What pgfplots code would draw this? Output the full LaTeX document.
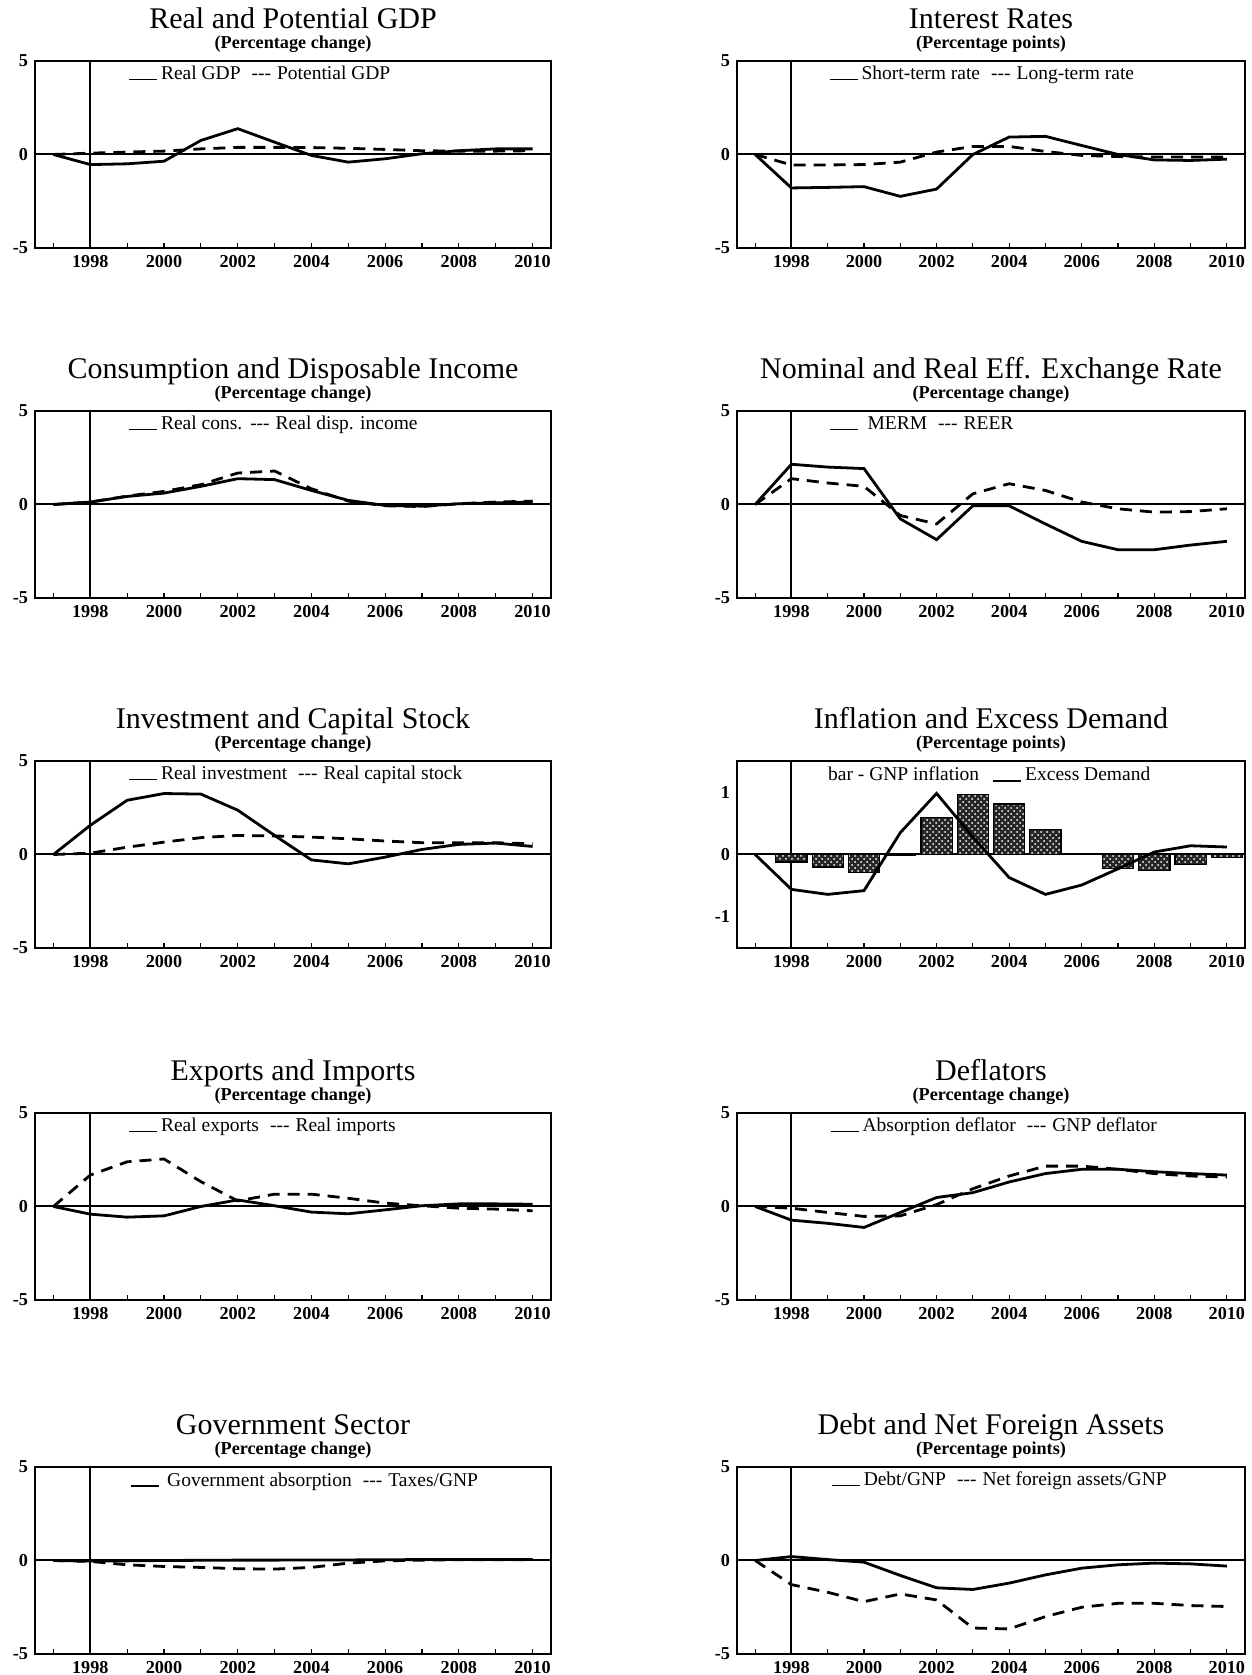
\documentclass[border=0pt]{standalone}
\usepackage{pgfplots}
\pgfplotsset{compat=1.18}
\usetikzlibrary{patterns}
\usepackage{fontspec}
\setmainfont{Liberation Serif}
\newcommand{\ttl}{\fontsize{15}{18}\selectfont}
\newcommand{\sub}{\bfseries\fontsize{9.1}{11}\selectfont}
\newcommand{\tkl}{\bfseries\fontsize{9.1}{11}\selectfont}
\newcommand{\leg}{\fontsize{9.75}{11}\selectfont}
\newcommand{\ul}{\rule[-0.4pt]{14pt}{0.8pt}}
\newcommand{\dd}{-{}-{}-}
\pgfplotsset{
  panel/.style={
    scale only axis, height=93.5pt,
    xmin=1996.5, xmax=2010.5, ymin=-5, ymax=5,
    clip mode=individual,
    axis line style={line width=0.9pt},
    xtick={1998,2000,2002,2004,2006,2008,2010},
    xticklabels={1998,2000,2002,2004,2006,2008,2010},
    minor xtick={1997,1999,2001,2003,2005,2007,2009},
    ytick={-5,0,5}, yticklabels={-5,0,5},
    tick pos=left, tick align=inside,
    major tick length=2.5pt, minor tick length=2.5pt,
    tick style={line width=0.6pt, black},
    ytick style={draw=none},
    ticklabel style={font=\tkl},
  },
  L/.style={panel, width=258pt},
  R/.style={panel, width=254pt},
  sol/.style={black, line width=1.4pt},
  das/.style={black, line width=1.4pt, dash pattern=on 6pt off 4pt},
  ref/.style={black, line width=1pt, forget plot},
}
\newcommand{\refs}[1]{%
  \addplot[ref] coordinates {(1996.5,0) (2010.5,0)};
  \addplot[ref] coordinates {(1998,-#1) (1998,#1)};
}
\newcommand{\heads}[2]{%
  \node[font=\ttl, inner sep=0pt, anchor=base, yshift=16.3pt] at (rel axis cs:0.5,1) {#1};
  \node[font=\sub, inner sep=0pt, anchor=base, yshift=6.3pt] at (rel axis cs:0.5,1) {#2};
}
\begin{document}
\begin{tikzpicture}
\path[use as bounding box] (0,0) rectangle (626pt,837.5pt);

% Row 1 left
\begin{axis}[L, anchor=south west, at={(17.5pt,713.5pt)}]
\refs{5}
\addplot[sol] coordinates {(1997,0) (1998,-0.54) (1999,-0.5) (2000,-0.36) (2001,0.75) (2002,1.38) (2003,0.66) (2004,-0.05) (2005,-0.41) (2006,-0.23) (2007,0.04) (2008,0.2) (2009,0.3) (2010,0.3)};
\addplot[das] coordinates {(1997,0) (1998,0.07) (1999,0.13) (2000,0.18) (2001,0.3) (2002,0.38) (2003,0.38) (2004,0.37) (2005,0.33) (2006,0.27) (2007,0.2) (2008,0.18) (2009,0.18) (2010,0.2)};
\heads{Real and Potential GDP}{(Percentage change)}
\node[anchor=base west, font=\leg, inner sep=0pt] at (axis cs:1999.04,4.0) {\ul\hspace{2pt}Real GDP\hspace{5.5pt}\dd\hspace{3pt}Potential GDP};
\end{axis}

% Row 1 right
\begin{axis}[R, anchor=south west, at={(368.5pt,713.5pt)}]
\refs{5}
\addplot[sol] coordinates {(1997,0) (1998,-1.79) (1999,-1.76) (2000,-1.72) (2001,-2.24) (2002,-1.85) (2003,0) (2004,0.93) (2005,0.97) (2006,0.48) (2007,0) (2008,-0.29) (2009,-0.32) (2010,-0.25)};
\addplot[das] coordinates {(1997,0) (1998,-0.56) (1999,-0.56) (2000,-0.54) (2001,-0.41) (2002,0.13) (2003,0.43) (2004,0.43) (2005,0.16) (2006,-0.05) (2007,-0.11) (2008,-0.14) (2009,-0.14) (2010,-0.14)};
\heads{Interest Rates}{(Percentage points)}
\node[anchor=base west, font=\leg, inner sep=0pt] at (axis cs:1999.04,4.0) {\ul\hspace{2pt}Short-term rate\hspace{5.5pt}\dd\hspace{3pt}Long-term rate};
\end{axis}

% Row 2 left
\begin{axis}[L, anchor=south west, at={(17.5pt,538.5pt)}]
\refs{5}
\addplot[sol] coordinates {(1997,0) (1998,0.13) (1999,0.43) (2000,0.61) (2001,0.97) (2002,1.38) (2003,1.33) (2004,0.75) (2005,0.22) (2006,-0.05) (2007,-0.09) (2008,0.04) (2009,0.09) (2010,0.13)};
\addplot[das] coordinates {(1997,0) (1998,0.13) (1999,0.45) (2000,0.7) (2001,1.06) (2002,1.68) (2003,1.79) (2004,0.84) (2005,0.18) (2006,-0.07) (2007,-0.11) (2008,0.04) (2009,0.13) (2010,0.18)};
\heads{Consumption and Disposable Income}{(Percentage change)}
\node[anchor=base west, font=\leg, inner sep=0pt] at (axis cs:1999.04,4.0) {\ul\hspace{2pt}Real cons.\hspace{4pt}\dd\hspace{3pt}Real disp. income};
\end{axis}

% Row 2 right
\begin{axis}[R, anchor=south west, at={(368.5pt,538.5pt)}]
\refs{5}
\addplot[sol] coordinates {(1997,0) (1998,2.15) (1999,2.0) (2000,1.92) (2001,-0.77) (2002,-1.88) (2003,-0.07) (2004,-0.07) (2005,-1.04) (2006,-1.97) (2007,-2.42) (2008,-2.42) (2009,-2.17) (2010,-1.97)};
\addplot[das] coordinates {(1997,0) (1998,1.38) (1999,1.15) (2000,0.97) (2001,-0.59) (2002,-1.04) (2003,0.57) (2004,1.11) (2005,0.75) (2006,0.13) (2007,-0.23) (2008,-0.41) (2009,-0.38) (2010,-0.23)};
\heads{Nominal and Real Eff. Exchange Rate}{(Percentage change)}
\node[anchor=base west, font=\leg, inner sep=0pt] at (axis cs:1999.04,4.0) {\ul\hspace{5pt}MERM\hspace{5.5pt}\dd\hspace{3pt}REER};
\end{axis}

% Row 3 left
\begin{axis}[L, anchor=south west, at={(17.5pt,363.5pt)}]
\refs{5}
\addplot[sol] coordinates {(1997,0) (1998,1.56) (1999,2.9) (2000,3.26) (2001,3.23) (2002,2.37) (2003,1.02) (2004,-0.29) (2005,-0.5) (2006,-0.14) (2007,0.27) (2008,0.54) (2009,0.61) (2010,0.43)};
\addplot[das] coordinates {(1997,0) (1998,0.07) (1999,0.39) (2000,0.66) (2001,0.9) (2002,1.02) (2003,0.99) (2004,0.93) (2005,0.84) (2006,0.72) (2007,0.63) (2008,0.63) (2009,0.63) (2010,0.57)};
\heads{Investment and Capital Stock}{(Percentage change)}
\node[anchor=base west, font=\leg, inner sep=0pt] at (axis cs:1999.04,4.0) {\ul\hspace{2pt}Real investment\hspace{5.5pt}\dd\hspace{3pt}Real capital stock};
\end{axis}

% Row 3 right
\begin{axis}[R, anchor=south west, at={(368.5pt,363.5pt)}, ymin=-1.5, ymax=1.5, ytick={-1,0,1}, yticklabels={-1,0,1}]
\refs{1.5}
\addplot[ybar, bar width=0.86, draw=black, line width=0.6pt, fill=black!85, postaction={pattern=crosshatch dots, pattern color=white}] coordinates {(1998,-0.12) (1999,-0.2) (2000,-0.29) (2001,-0.02) (2002,0.59) (2003,0.96) (2004,0.81) (2005,0.4) (2006,0.01) (2007,-0.23) (2008,-0.26) (2009,-0.16) (2010,-0.05)};
\addplot[sol] coordinates {(1997,0) (1998,-0.56) (1999,-0.64) (2000,-0.58) (2001,0.35) (2002,0.98) (2003,0.28) (2004,-0.37) (2005,-0.64) (2006,-0.49) (2007,-0.23) (2008,0.04) (2009,0.14) (2010,0.12)};
\heads{Inflation and Excess Demand}{(Percentage points)}
\node[anchor=base west, font=\leg, inner sep=0pt] at (axis cs:1999.0,1.18) {bar - GNP inflation\hspace{7pt}\ul\hspace{2pt}Excess Demand};
\end{axis}

% Row 4 left
\begin{axis}[L, anchor=south west, at={(17.5pt,187.5pt)}]
\refs{5}
\addplot[sol] coordinates {(1997,0) (1998,-0.41) (1999,-0.57) (2000,-0.5) (2001,0) (2002,0.35) (2003,0.04) (2004,-0.3) (2005,-0.39) (2006,-0.18) (2007,0.04) (2008,0.14) (2009,0.14) (2010,0.12)};
\addplot[das] coordinates {(1997,0) (1998,1.68) (1999,2.39) (2000,2.54) (2001,1.33) (2002,0.3) (2003,0.66) (2004,0.66) (2005,0.44) (2006,0.18) (2007,0.04) (2008,-0.09) (2009,-0.14) (2010,-0.23)};
\heads{Exports and Imports}{(Percentage change)}
\node[anchor=base west, font=\leg, inner sep=0pt] at (axis cs:1999.04,4.0) {\ul\hspace{2pt}Real exports\hspace{5.5pt}\dd\hspace{3pt}Real imports};
\end{axis}

% Row 4 right
\begin{axis}[R, anchor=south west, at={(368.5pt,187.5pt)}]
\refs{5}
\addplot[sol] coordinates {(1997,0) (1998,-0.73) (1999,-0.9) (2000,-1.12) (2001,-0.32) (2002,0.48) (2003,0.74) (2004,1.31) (2005,1.76) (2006,1.99) (2007,1.99) (2008,1.86) (2009,1.76) (2010,1.68)};
\addplot[das] coordinates {(1997,0) (1998,-0.09) (1999,-0.32) (2000,-0.53) (2001,-0.5) (2002,0.1) (2003,0.95) (2004,1.63) (2005,2.16) (2006,2.16) (2007,1.99) (2008,1.76) (2009,1.63) (2010,1.58)};
\heads{Deflators}{(Percentage change)}
\node[anchor=base west, font=\leg, inner sep=0pt] at (axis cs:1999.07,4.0) {\ul\hspace{2pt}Absorption deflator\hspace{5.5pt}\dd\hspace{3pt}GNP deflator};
\end{axis}

% Row 5 left
\begin{axis}[L, anchor=south west, at={(17.5pt,10.5pt)}]
\refs{5}
\addplot[sol] coordinates {(1997,0) (1998,-0.03) (1999,-0.02) (2000,0) (2001,0.01) (2002,0.02) (2003,0.02) (2004,0.03) (2005,0.03) (2006,0.04) (2007,0.05) (2008,0.05) (2009,0.05) (2010,0.05)};
\addplot[das] coordinates {(1997,0) (1998,-0.05) (1999,-0.23) (2000,-0.32) (2001,-0.37) (2002,-0.44) (2003,-0.46) (2004,-0.37) (2005,-0.14) (2006,-0.02) (2007,0.02) (2008,0.04) (2009,0.04) (2010,0.05)};
\heads{Government Sector}{(Percentage change)}
\node[anchor=base west, font=\leg, inner sep=0pt] at (axis cs:1999.1,3.98) {\ul\hspace{4pt}Government absorption\hspace{5.5pt}\dd\hspace{3pt}Taxes/GNP};
\end{axis}

% Row 5 right
\begin{axis}[R, anchor=south west, at={(368.5pt,10.5pt)}]
\refs{5}
\addplot[sol] coordinates {(1997,0) (1998,0.21) (1999,0.05) (2000,-0.09) (2001,-0.8) (2002,-1.46) (2003,-1.55) (2004,-1.21) (2005,-0.77) (2006,-0.41) (2007,-0.23) (2008,-0.14) (2009,-0.18) (2010,-0.3)};
\addplot[das] coordinates {(1997,0) (1998,-1.29) (1999,-1.7) (2000,-2.2) (2001,-1.79) (2002,-2.11) (2003,-3.61) (2004,-3.66) (2005,-3.0) (2006,-2.5) (2007,-2.29) (2008,-2.29) (2009,-2.41) (2010,-2.46)};
\heads{Debt and Net Foreign Assets}{(Percentage points)}
\node[anchor=base west, font=\leg, inner sep=0pt] at (axis cs:1999.1,4.02) {\ul\hspace{2pt}Debt/GNP\hspace{5.5pt}\dd\hspace{3pt}Net foreign assets/GNP};
\end{axis}
\end{tikzpicture}
\end{document}
